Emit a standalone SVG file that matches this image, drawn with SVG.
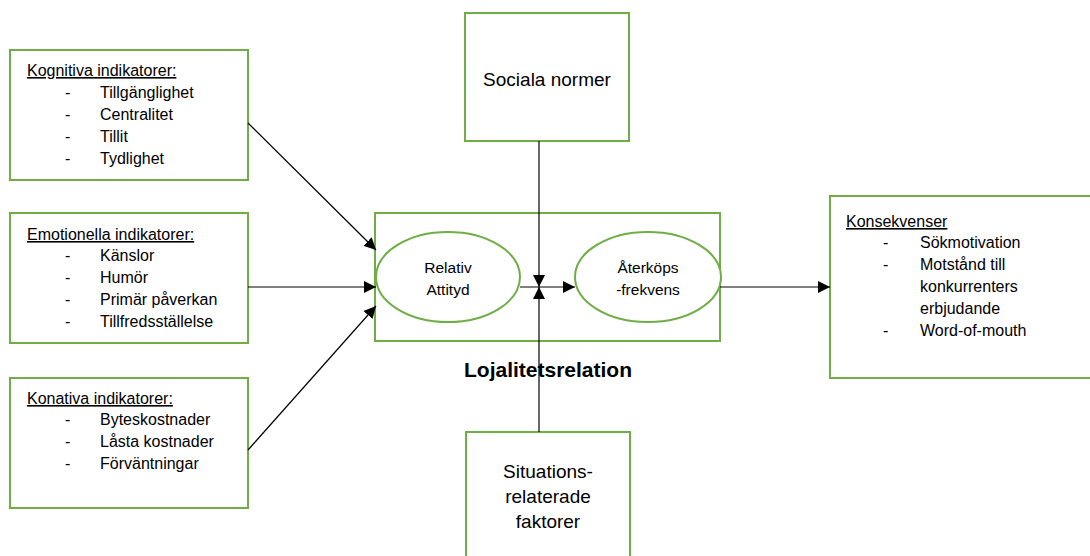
<svg xmlns="http://www.w3.org/2000/svg" width="1090" height="556" viewBox="0 0 1090 556">
<defs>
<style>
.box{fill:#fff;stroke:#70AD47;stroke-width:2}
.t{font-family:"Liberation Sans",Arial,sans-serif;font-size:16px;fill:#000}
.e{font-size:15.5px}
.u{text-decoration:underline}
.c{text-anchor:middle}
.big{font-size:19px}
.b{font-weight:bold;font-size:21px}
.ln{stroke:#000;stroke-width:1.2;fill:none}
</style>
<marker id="ah" viewBox="0 0 10 10" refX="10" refY="5" markerWidth="12" markerHeight="12" markerUnits="userSpaceOnUse" orient="auto">
<path d="M0,0 L10,5 L0,10 z" fill="#000"/>
</marker>
</defs>
<rect width="1090" height="556" fill="#fff"/>

<g id="kognitiva">
<rect class="box" x="10" y="50" width="238" height="130"/>
<text class="t u" x="27" y="76">Kognitiva indikatorer:</text>
<text class="t" x="65" y="98">-</text><text class="t" x="100" y="98">Tillgänglighet</text>
<text class="t" x="65" y="120">-</text><text class="t" x="100" y="120">Centralitet</text>
<text class="t" x="65" y="142">-</text><text class="t" x="100" y="142">Tillit</text>
<text class="t" x="65" y="164">-</text><text class="t" x="100" y="164">Tydlighet</text>
</g>

<g id="emotionella">
<rect class="box" x="10" y="213" width="238" height="130"/>
<text class="t u" x="27" y="240">Emotionella indikatorer:</text>
<text class="t" x="65" y="261">-</text><text class="t" x="100" y="261">Känslor</text>
<text class="t" x="65" y="283">-</text><text class="t" x="100" y="283">Humör</text>
<text class="t" x="65" y="305">-</text><text class="t" x="100" y="305">Primär påverkan</text>
<text class="t" x="65" y="327">-</text><text class="t" x="100" y="327">Tillfredsställelse</text>
</g>

<g id="konativa">
<rect class="box" x="10" y="378" width="238" height="130"/>
<text class="t u" x="27" y="404">Konativa indikatorer:</text>
<text class="t" x="65" y="425">-</text><text class="t" x="100" y="425">Byteskostnader</text>
<text class="t" x="65" y="447">-</text><text class="t" x="100" y="447">Låsta kostnader</text>
<text class="t" x="65" y="469">-</text><text class="t" x="100" y="469">Förväntningar</text>
</g>

<g id="sociala">
<rect class="box" x="465" y="13" width="164" height="128"/>
<text class="t c big" x="547" y="86">Sociala normer</text>
</g>

<g id="situations">
<rect class="box" x="466" y="432" width="164" height="130"/>
<text class="t c big" x="548" y="478">Situations-</text>
<text class="t c big" x="548" y="503">relaterade</text>
<text class="t c big" x="548" y="528">faktorer</text>
</g>

<g id="lojalitet">
<rect class="box" x="375" y="213" width="345" height="128"/>
<text class="t c b" x="548" y="377">Lojalitetsrelation</text>
</g>

<g id="relativ">
<ellipse class="box" cx="448" cy="277" rx="72" ry="45"/>
<text class="t c e" x="448" y="273">Relativ</text>
<text class="t c e" x="448" y="295">Attityd</text>
</g>

<g id="aterkop">
<ellipse class="box" cx="648" cy="277" rx="73" ry="45"/>
<text class="t c e" x="648" y="273">Återköps</text>
<text class="t c e" x="648" y="295">-frekvens</text>
</g>

<g id="konsekvenser">
<rect class="box" x="830" y="196" width="270" height="182"/>
<text class="t u" x="846" y="227">Konsekvenser</text>
<text class="t" x="883" y="248">-</text><text class="t" x="920" y="248">Sökmotivation</text>
<text class="t" x="883" y="270">-</text><text class="t" x="920" y="270">Motstånd till</text>
<text class="t" x="920" y="292">konkurrenters</text>
<text class="t" x="920" y="314">erbjudande</text>
<text class="t" x="883" y="336">-</text><text class="t" x="920" y="336">Word-of-mouth</text>
</g>

<g id="connectors">
<line class="ln" x1="248" y1="123" x2="376" y2="250" marker-end="url(#ah)"/>
<line class="ln" x1="248" y1="287" x2="376" y2="287" marker-end="url(#ah)"/>
<line class="ln" x1="248" y1="450" x2="376" y2="306" marker-end="url(#ah)"/>
<line class="ln" x1="720" y1="287" x2="830" y2="287" marker-end="url(#ah)"/>
<line class="ln" x1="520" y1="287" x2="575" y2="287" marker-end="url(#ah)"/>
<line class="ln" x1="539" y1="141" x2="539" y2="287" marker-end="url(#ah)"/>
<line class="ln" x1="539" y1="432" x2="539" y2="287" marker-end="url(#ah)"/>
</g>
</svg>
